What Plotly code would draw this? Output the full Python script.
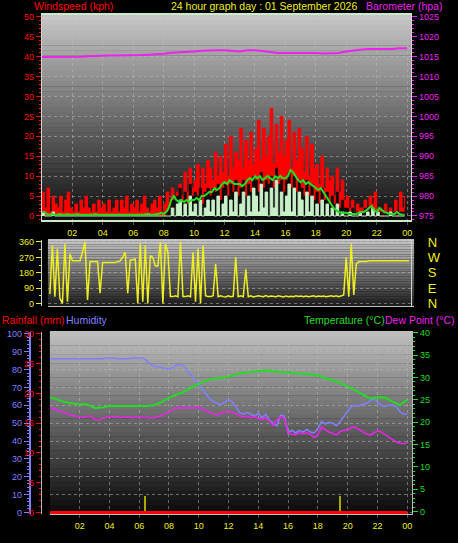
import plotly.graph_objects as go

W, H = 458, 543

# ---------------- data ----------------
# wind (10-minute samples, kph)
gust = [
    6, 2, 7, 1, 5, 3,
    2, 5, 1, 4, 6, 2,
    1, 3, 1, 4, 2, 5,
    2, 1, 3, 1, 4, 2,
    3, 1, 4, 1, 2, 4,
    1, 4, 2, 5, 1, 3,
    2, 4, 1, 3, 5, 2,
    1, 3, 4, 2, 5, 1,
    3, 6, 2, 7, 4, 6,
    8, 5, 11, 6, 12, 7,
    9, 13, 7, 12, 8, 14,
    12, 9, 16, 10, 15, 11,
    18, 10, 20, 12, 16, 14,
    22, 12, 19, 14, 21, 13,
    17, 24, 14, 22, 15, 20,
    27, 13, 23, 16, 25, 15,
    19, 24, 12, 21, 14, 22,
    17, 11, 20, 10, 18, 12,
    13, 8, 15, 7, 12, 9,
    10, 5, 12, 6, 9, 4,
    5, 2, 4, 1, 3, 2,
    2, 4, 1, 5, 3, 6,
    1, 2, 0, 3, 1, 2,
    1, 4, 0, 6, 2, 5,
]
speed = [
    0, 0, 0, 0, 0, 0,
    0, 0, 0, 0, 0, 0,
    0, 0, 0, 0, 0, 0,
    0, 0, 0, 0, 0, 0,
    0, 0, 0, 0, 0, 0,
    0, 0, 0, 0, 0, 0,
    0, 0, 0, 0, 0, 0,
    0, 0, 0, 0, 0, 0,
    0, 1, 2, 4, 4, 5,
    7, 4, 6, 3, 8, 5,
    6, 5, 7, 3, 6, 7,
    5, 7, 6, 8, 4, 7,
    8, 5, 8, 6, 9, 5,
    7, 9, 5, 8, 6, 10,
    9, 6, 11, 7, 9, 8,
    10, 7, 12, 8, 9, 6,
    9, 11, 7, 10, 6, 9,
    7, 5, 9, 5, 8, 4,
    6, 3, 7, 4, 6, 3,
    5, 3, 6, 2, 4, 2,
    2, 1, 2, 1, 1, 1,
    1, 2, 1, 2, 2, 1,
    1, 1, 0, 1, 1, 1,
    1, 1, 0, 1, 1, 1,
]
lull = [
    1, 0, 0, 0, 1, 0,
    0, 0, 0, 0, 0, 0,
    0, 0, 0, 0, 0, 0,
    0, 0, 0, 0, 0, 0,
    0, 0, 0, 0, 0, 0,
    0, 0, 0, 0, 0, 0,
    0, 0, 0, 0, 0, 0,
    0, 0, 0, 0, 0, 0,
    0, 0, 0, 2, 0, 3,
    4, 0, 3, 0, 5, 1,
    3, 0, 4, 0, 2, 4,
    1, 4, 0, 5, 0, 3,
    5, 0, 4, 1, 6, 0,
    3, 6, 0, 5, 1, 7,
    5, 1, 8, 2, 6, 0,
    7, 2, 9, 0, 6, 1,
    5, 8, 1, 7, 0, 6,
    4, 0, 6, 1, 5, 0,
    3, 0, 4, 0, 3, 0,
    2, 0, 3, 0, 1, 0,
    0, 1, 0, 0, 0, 1,
    0, 0, 1, 0, 2, 0,
    1, 0, 0, 0, 0, 1,
    0, 0, 0, 0, 0, 0,
]
avg_wind = [
    1, 1, 0.5, 0.3, 0.5, 0.3,
    0.3, 0.5, 0.3, 0.3, 0.5, 0.3,
    0.3, 0.3, 0.5, 0.3, 0.3, 0.3,
    0.3, 0.3, 0.3, 0.5, 0.3, 0.3,
    0.3, 0.3, 0.3, 0.3, 0.3, 0.3,
    0.3, 0.3, 0.3, 0.3, 0.3, 0.3,
    0.3, 0.3, 0.3, 0.3, 0.3, 0.5,
    0.5, 0.3, 0.3, 0.5, 0.5, 0.8,
    0.5, 1, 2, 4, 5, 4,
    3.5, 4, 3.5, 4, 3.5, 4,
    4, 4.5, 4, 5, 5, 5.5,
    6, 6, 7, 6.5, 7, 8,
    8.5, 8, 9, 8.5, 8, 8,
    8, 7.5, 8, 9, 9.5, 9,
    10, 9.5, 10, 9, 9.5, 10,
    9.5, 9, 10, 9.5, 10, 9.5,
    9.5, 10, 11.5, 11, 10, 9,
    8.5, 9, 8, 8.5, 8, 7.5,
    7, 6.5, 7, 6, 5, 4,
    3, 2, 1.5, 1, 0.8, 0.8,
    0.8, 0.5, 0.5, 0.5, 0.5, 0.8,
    1, 1, 1.5, 2, 2.5, 1.5,
    1, 2, 1.5, 1, 0.8, 0.5,
    0.5, 0.5, 1, 0.5, 0.3, 0.3,
]
# barometer (30-minute samples, hPa)
barometer = [
    1014.9, 1014.9, 1014.9, 1015.0, 1015.0, 1015.0, 1015.1, 1015.2, 1015.2, 1015.3,
    1015.3, 1015.3, 1015.4, 1015.4, 1015.5, 1015.6, 1015.7, 1016.0, 1016.1, 1016.1,
    1016.3, 1016.5, 1016.6, 1016.6, 1016.6, 1016.5, 1016.3, 1016.6, 1016.6, 1016.4,
    1016.1, 1015.9, 1015.9, 1015.9, 1015.9, 1016.0, 1015.9, 1015.8, 1015.8, 1015.9,
    1016.3, 1016.6, 1016.8, 1016.9, 1016.9, 1016.9, 1016.9, 1017.1, 1017.1,
]
# wind direction (10-minute samples, degrees)
wind_dir = [
    55, 340, 40, 320, 30, 0,
    350, 10, 290, 250, 250, 250,
    250, 300, 360, 20, 245, 245,
    245, 245, 60, 240, 240, 240,
    240, 240, 240, 245, 250, 270,
    300, 60, 255, 255, 260, 0,
    350, 10, 340, 0, 280, 270,
    220, 220, 360, 0, 350, 300,
    40, 40, 45, 40, 360, 40,
    40, 45, 40, 300, 10, 320,
    0, 340, 45, 40, 40, 45,
    230, 40, 45, 40, 38, 45,
    40, 42, 270, 40, 45, 40,
    200, 40, 45, 38, 40, 45,
    42, 40, 46, 40, 44, 41,
    40, 45, 42, 38, 44, 40,
    42, 40, 45, 41, 43, 40,
    44, 40, 42, 45, 40, 43,
    41, 44, 40, 42, 45, 41,
    45, 40, 45, 50, 270, 40,
    350, 50, 230, 245, 245, 245,
    245, 250, 250, 250, 250, 250,
    250, 250, 250, 250, 250, 250,
    250, 250, 250, 250, 250, 250,
]
# temperature (30-minute samples, °C)
temperature = [
    25.6, 25.0, 24.5, 24.2, 24.0, 24.0, 23.2, 23.3, 23.6, 23.6,
    23.6, 23.6, 23.6, 23.6, 23.8, 24.5, 25.5, 26.2, 26.8, 27.8,
    28.6, 29.3, 29.8, 29.9, 30.2, 30.6, 31.1, 31.2, 31.4, 31.6,
    31.4, 31.2, 31.2, 31.0, 30.8, 30.6, 30.5, 29.9, 29.3, 28.8,
    28.0, 27.2, 26.2, 25.3, 25.6, 25.5, 24.6, 23.8, 25.0,
]
# humidity (15-minute samples, %)
humidity = [
    86, 86, 86, 86, 86, 86, 86, 86, 86, 86, 86, 86, 86, 86, 86, 86.5,
    86.5, 86.5, 86, 86, 86, 86, 86.5, 86.5, 86.5, 86.5, 85, 83, 82, 81.5,
    81, 80.5, 80.2, 81, 82.5, 83, 82, 79, 77, 74, 72, 69, 66, 63.5,
    62, 61, 60.5, 62, 63, 62, 59, 56, 55, 56, 55, 54, 55.5, 53,
    55, 51.5, 50, 48.5, 54.5, 54, 44.5, 46, 44.5, 46, 45, 46.5, 45, 44.5,
    47, 51, 49.5, 50.5, 50, 48.5, 51, 54, 57, 59.5, 60, 59.5, 60.5, 61,
    62.5, 63.5, 62, 60, 59.5, 60, 60, 59.5, 56.5, 55, 55,
]
# dew point (15-minute samples, °C)
dew_point = [
    23.3, 23.0, 22.7, 22.3, 22.0, 21.8, 21.5, 21.3, 21.2, 21.1, 21.3, 21.4,
    20.6, 20.5, 20.8, 21.0, 21.2, 21.2, 21.3, 21.1, 21.2, 21.2, 21.0, 21.1,
    21.2, 21.1, 21.0, 21.0, 21.0, 21.2, 21.5, 21.9, 22.3, 22.8, 23.1, 23.3,
    23.3, 23.2, 23.3, 23.2, 23.4, 22.9, 22.6, 22.2, 21.8, 21.6, 22.0, 22.2,
    22.4, 22.2, 21.9, 21.4, 21.2, 21.3, 21.0, 21.2, 20.8, 20.6, 21.0, 20.2,
    19.3, 20.5, 21.2, 20.8, 17.6, 17.3, 17.2, 17.6, 17.4, 17.6, 17.3, 16.5,
    17.2, 18.9, 18.3, 17.8, 17.5, 17.1, 17.9, 18.2, 18.3, 18.8, 18.9, 18.4,
    17.8, 17.4, 17.1, 17.5, 18.0, 17.8, 17.2, 16.7, 16.1, 15.6, 15.3, 15.2,
    15.3,
]
# rainfall (mm)
rain_hours = [0, 24]
rainfall = [0, 0]
# rain-rate markers
rate_hours = [6.4, 19.5]
rain_rate = [2.7, 2.7]

hour_ticks = list(range(2, 25, 2))
hour_labels = ["02", "04", "06", "08", "10", "12", "14", "16", "18", "20", "22", "00"]
dir_ticks = [0, 90, 180, 270, 360]
dir_labels = ["N", "E", "S", "W", "N"]

hours10 = [i / 6 for i in range(len(gust))]
hours30 = [i / 2 for i in range(len(barometer))]
hours15 = [i / 4 for i in range(len(humidity))]
hoursT = [i / 2 for i in range(len(temperature))]

# ---------------- styling ----------------
FONT = "Liberation Sans, Arial, sans-serif"
RED = "#ff0000"
MAG = "#ee22ee"
YEL = "#eeee22"
GRN = "#22dd22"
BLU = "#8080ff"
MINT = "#c8f0c8"
DARK = "#0c0c0c"
GRID = "rgba(190,190,190,0.5)"


def xd(a, b):
    return [a / W, b / W]


def yd(top, bottom):
    return [1 - bottom / H, 1 - top / H]


fig = go.Figure()

# top panel
fig.add_trace(go.Scatter(x=hours10, y=gust, xaxis="x", yaxis="y", mode="lines",
                         line=dict(color=RED, width=1, shape="hv"),
                         fill="tozeroy", fillcolor=RED))
fig.add_trace(go.Scatter(x=hours10, y=speed, xaxis="x", yaxis="y", mode="lines",
                         line=dict(color=DARK, width=0.5, shape="hv"),
                         fill="tozeroy", fillcolor=DARK))
fig.add_trace(go.Scatter(x=hours10, y=lull, xaxis="x", yaxis="y", mode="lines",
                         line=dict(color=MINT, width=1, shape="hv"),
                         fill="tozeroy", fillcolor=MINT))
fig.add_trace(go.Scatter(x=hours10, y=avg_wind, xaxis="x", yaxis="y", mode="lines",
                         line=dict(color=GRN, width=2)))
fig.add_trace(go.Scatter(x=hours30, y=barometer, xaxis="x", yaxis="y2", mode="lines",
                         line=dict(color=MAG, width=2)))
# middle panel
fig.add_trace(go.Scatter(x=hours10, y=wind_dir, xaxis="x2", yaxis="y3", mode="lines",
                         line=dict(color=YEL, width=1.5)))
fig.add_trace(go.Scatter(x=[0], y=[0], xaxis="x2", yaxis="y4", mode="markers",
                         marker=dict(opacity=0), hoverinfo="skip"))
# bottom panel
fig.add_trace(go.Bar(x=rate_hours, y=rain_rate, xaxis="x3", yaxis="y5", width=0.12,
                     marker=dict(color="#a8a800", line=dict(width=0))))
fig.add_trace(go.Scatter(x=hours15, y=humidity, xaxis="x3", yaxis="y6", mode="lines",
                         line=dict(color=BLU, width=1.5)))
fig.add_trace(go.Scatter(x=hoursT, y=temperature, xaxis="x3", yaxis="y7", mode="lines",
                         line=dict(color=GRN, width=2)))
fig.add_trace(go.Scatter(x=hours15, y=dew_point, xaxis="x3", yaxis="y7", mode="lines",
                         line=dict(color=MAG, width=1.5)))
fig.add_trace(go.Scatter(x=rain_hours, y=rainfall, xaxis="x3", yaxis="y5", mode="lines",
                         line=dict(color=RED, width=3)))

tick_font = dict(family=FONT, size=9)


def yax(color, **kw):
    d = dict(showgrid=False, zeroline=False, ticks="outside", ticklen=5,
             tickcolor=color, tickfont=dict(tick_font, color=color), fixedrange=True)
    d.update(kw)
    return d


def xax(**kw):
    d = dict(zeroline=False, tickvals=hour_ticks, ticktext=hour_labels,
             tickfont=dict(tick_font, color=YEL), ticks="outside", ticklen=3,
             tickcolor="#505050", showgrid=True, gridcolor=GRID, griddash="dot",
             gridwidth=1, showline=True, linecolor="#c0c0c0", linewidth=1, mirror=True,
             fixedrange=True)
    d.update(kw)
    return d


fig.update_layout(
    width=W, height=H, margin=dict(l=0, r=0, t=0, b=0),
    paper_bgcolor="black", plot_bgcolor="black", showlegend=False,
    bargap=0,
    xaxis=xax(domain=xd(42, 412), range=[0, 24.26], anchor="y",
              linecolor="#c8ecc8", linewidth=2),
    yaxis=yax(RED, domain=yd(10, 219), range=[-1, 50.5], dtick=5, tick0=0,
              showgrid=True, gridcolor=GRID, griddash="dot",
              minor=dict(dtick=1, ticks="outside", ticklen=2, tickcolor=RED, showgrid=False),
              showline=True, linecolor="#d8d8d8", mirror=True),
    yaxis2=yax(MAG, overlaying="y", side="right", anchor="x", range=[974, 1025.5],
               dtick=5, tick0=975,
               minor=dict(dtick=1, ticks="outside", ticklen=2, tickcolor=MAG, showgrid=False)),
    xaxis2=xax(domain=xd(48, 415), range=[-0.13, 24.17], anchor="y3",
               showticklabels=False, ticks="", showgrid=False),
    yaxis3=yax(YEL, domain=yd(239, 307), range=[-17, 374], tickvals=dir_ticks,
               showgrid=True, gridcolor=GRID, griddash="dot",
               minor=dict(dtick=45, ticks="outside", ticklen=2, tickcolor=YEL, showgrid=False),
               showline=True, linecolor="#d0d0d0", mirror=True),
    yaxis4=yax("rgba(0,0,0,0)", overlaying="y3", side="right", anchor="x2",
               range=[-17, 374], tickvals=dir_ticks, ticktext=dir_labels, ticklen=10,
               tickfont=dict(family=FONT, size=13, color=YEL)),
    xaxis3=xax(domain=xd(50, 413), range=[0, 24.33], anchor="y5"),
    yaxis5=yax(RED, domain=yd(333, 519), range=[-0.33, 30.33], dtick=5, tick0=0,
               minor=dict(dtick=1, ticks="outside", ticklen=2, tickcolor=RED, showgrid=False),
               showline=True, linecolor="#b8b8b8", mirror=False),
    yaxis6=yax(BLU, overlaying="y5", anchor="free", position=30 / W, side="left",
               range=[-1.1, 101.1], dtick=10, tick0=0,
               showgrid=True, gridcolor=GRID, griddash="dot",
               showline=True, linecolor=BLU, linewidth=2,
               minor=dict(dtick=2, ticks="outside", ticklen=2, tickcolor=BLU, showgrid=False)),
    yaxis7=yax(GRN, overlaying="y5", side="right", anchor="x3", range=[-0.66, 40.22],
               dtick=5, tick0=0,
               minor=dict(dtick=1, ticks="outside", ticklen=2, tickcolor=GRN, showgrid=False),
               showline=True, linecolor="#b8b8b8"),
)

# gradient backgrounds (decoration)
shapes = []


def gradient(xref, yref, top_rgb, bot_rgb, n=40):
    for i in range(n):
        t = (i + 0.5) / n
        c = [round(top_rgb[k] + (bot_rgb[k] - top_rgb[k]) * t) for k in range(3)]
        shapes.append(dict(type="rect", xref=xref + " domain", yref=yref + " domain",
                           x0=0, x1=1, y0=1 - (i + 1) / n, y1=1 - i / n + 0.002,
                           fillcolor="rgb(%d,%d,%d)" % tuple(c), line=dict(width=0),
                           layer="below"))


gradient("x", "y", (200, 200, 200), (14, 14, 14))
gradient("x2", "y3", (200, 200, 200), (28, 28, 28))
gradient("x3", "y5", (192, 192, 192), (8, 8, 8))
fig.update_layout(shapes=shapes)

ann_font = dict(family=FONT, size=10.5)


def ann(text, x, y, color, xanchor="left"):
    fig.add_annotation(text=text, x=x / W, y=1 - y / H, xref="paper", yref="paper",
                       xanchor=xanchor, yanchor="middle", showarrow=False,
                       font=dict(ann_font, color=color))


ann("Windspeed (kph)", 32, 1, RED)
ann("24 hour graph day : 01 September 2026", 169, 1, YEL)
ann("Barometer (hpa)", 365, 1, MAG)
ann("Rainfall (mm)", 0, 321, RED)
ann("Humidity", 64, 321, BLU)
ann("Dew Point (°C)", 458, 321, MAG, xanchor="right")
ann("Temperature (°C)", 388, 321, GRN, xanchor="right")

fig.write_html("out.html", config={"displayModeBar": False, "staticPlot": True},
               post_script="document.body.style.margin='0';document.body.style.overflow='hidden';")
